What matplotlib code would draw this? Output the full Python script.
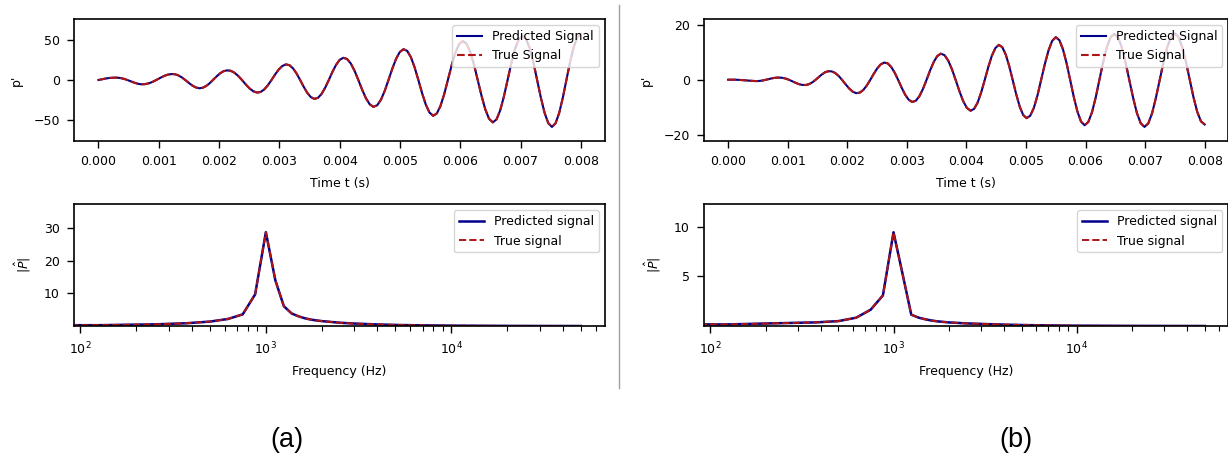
import numpy as np
import matplotlib
matplotlib.use("Agg")
import matplotlib.pyplot as plt

# ---------------- data ----------------
# panel (a): time signal p' (times in ms)
a_time_ms = [0, 0.0625, 0.125, 0.1875, 0.25,
             0.3075, 0.365, 0.4225, 0.48, 0.5375, 0.595, 0.6525, 0.71,
             0.7725, 0.835, 0.8975, 0.96, 1.0225, 1.085, 1.1475, 1.21,
             1.2675, 1.325, 1.3825, 1.44, 1.4975, 1.555, 1.6125, 1.67,
             1.7275, 1.785, 1.8425, 1.90, 1.9575, 2.015, 2.0725, 2.13,
             2.1925, 2.255, 2.3175, 2.38, 2.4425, 2.505, 2.5675, 2.63,
             2.69, 2.75, 2.81, 2.87, 2.93, 2.99, 3.05, 3.11,
             3.16875, 3.2275, 3.28625, 3.345, 3.40375, 3.4625, 3.52125, 3.58,
             3.64, 3.70, 3.76, 3.82, 3.88, 3.94, 4.00, 4.06,
             4.1225, 4.185, 4.2475, 4.31, 4.3725, 4.435, 4.4975, 4.56,
             4.6225, 4.685, 4.7475, 4.81, 4.8725, 4.935, 4.9975, 5.06,
             5.12125, 5.1825, 5.24375, 5.305, 5.36625, 5.4275, 5.48875, 5.55,
             5.61125, 5.6725, 5.73375, 5.795, 5.85625, 5.9175, 5.97875, 6.04,
             6.1025, 6.165, 6.2275, 6.29, 6.3525, 6.415, 6.4775, 6.54,
             6.60125, 6.6625, 6.72375, 6.785, 6.84625, 6.9075, 6.96875, 7.03,
             7.09125, 7.1525, 7.21375, 7.275, 7.33625, 7.3975, 7.45875, 7.52,
             7.58, 7.64, 7.70, 7.76, 7.82, 7.88, 7.94, 8.00]
a_true_signal = [0, 1.00, 1.91, 2.59, 2.90,
                 2.97, 2.49, 1.47, 0, -1.71, -3.38, -4.70, -5.40,
                 -5.23, -4.19, -2.37, 0, 2.57, 4.93, 6.69, 7.50,
                 7.26, 5.82, 3.29, 0, -3.57, -6.84, -9.28, -10.40,
                 -9.80, -7.65, -4.23, 0, 4.39, 8.26, 10.99, 12.10,
                 11.61, 9.21, 5.17, 0, -5.52, -10.52, -14.17, -15.80,
                 -15.04, -11.84, -6.60, 0, 6.96, 13.19, 17.67, 19.60,
                 18.59, 14.59, 8.10, 0, -8.50, -16.06, -21.46, -23.75,
                 -22.43, -17.53, -9.69, 0, 10.09, 18.99, 25.30, 27.90,
                 26.45, 20.76, 11.52, 0, -12.09, -22.83, -30.51, -33.75,
                 -31.77, -24.75, -13.65, 0, 14.12, 26.51, 35.23, 38.75,
                 36.53, 28.50, 15.74, 0, -16.34, -30.71, -40.86, -45.00,
                 -42.04, -32.52, -17.81, 0, 18.19, 33.94, 44.81, 49.00,
                 45.77, 35.41, 19.38, 0, -19.80, -36.93, -48.75, -53.30,
                 -49.51, -38.07, -20.73, 0, 20.94, 38.85, 51.03, 55.50,
                 51.69, 39.86, 21.76, 0, -22.09, -41.10, -54.11, -59.00,
                 -54.40, -41.54, -22.45, 0, 22.36, 41.18, 53.71, 58.00]
a_pred_signal = list(a_true_signal)

# panel (b): time signal p' (times in ms)
b_time_ms = [0, 0.05375, 0.1075, 0.16125, 0.215, 0.26875, 0.3225, 0.37625, 0.43,
             0.4775, 0.525, 0.5725, 0.62, 0.6675, 0.715, 0.7625, 0.81,
             0.865, 0.92, 0.975, 1.03, 1.085, 1.14, 1.195, 1.25,
             1.30375, 1.3575, 1.41125, 1.465, 1.51875, 1.5725, 1.62625, 1.68,
             1.73875, 1.7975, 1.85625, 1.915, 1.97375, 2.0325, 2.09125, 2.15,
             2.20875, 2.2675, 2.32625, 2.385, 2.44375, 2.5025, 2.56125, 2.62,
             2.67875, 2.7375, 2.79625, 2.855, 2.91375, 2.9725, 3.03125, 3.09,
             3.15, 3.21, 3.27, 3.33, 3.39, 3.45, 3.51, 3.57,
             3.6325, 3.695, 3.7575, 3.82, 3.8825, 3.945, 4.0075, 4.07,
             4.129, 4.189, 4.248, 4.3075, 4.367, 4.426, 4.486, 4.545,
             4.603, 4.661, 4.719, 4.7775, 4.836, 4.894, 4.952, 5.01,
             5.071, 5.133, 5.194, 5.255, 5.316, 5.378, 5.439, 5.50,
             5.561, 5.621, 5.682, 5.7425, 5.803, 5.864, 5.924, 5.985,
             6.047, 6.109, 6.171, 6.2325, 6.294, 6.356, 6.418, 6.48,
             6.544, 6.6075, 6.671, 6.735, 6.799, 6.8625, 6.926, 6.99,
             7.054, 7.1175, 7.181, 7.245, 7.309, 7.3725, 7.436, 7.50,
             7.5625, 7.625, 7.6875, 7.75, 7.8125, 7.875, 7.9375, 8.00]
b_true_signal = [0.10, 0.12, 0.12, 0.08, 0, -0.10, -0.21, -0.30, -0.36,
                 -0.39, -0.34, -0.21, 0, 0.25, 0.51, 0.72, 0.84,
                 0.89, 0.76, 0.46, 0, -0.55, -1.10, -1.55, -1.80,
                 -1.82, -1.52, -0.89, 0, 1.02, 2.01, 2.80, 3.20,
                 3.14, 2.55, 1.46, 0, -1.61, -3.11, -4.25, -4.80,
                 -4.61, -3.67, -2.06, 0, 2.21, 4.21, 5.69, 6.35,
                 6.06, 4.78, 2.67, 0, -2.83, -5.37, -7.20, -8.00,
                 -7.58, -5.94, -3.29, 0, 3.45, 6.50, 8.69, 9.60,
                 9.06, 7.07, 3.91, 0, -4.06, -7.64, -10.16, -11.20,
                 -10.53, -8.20, -4.52, 0, 4.67, 8.77, 11.64, 12.80,
                 11.95, 9.24, 5.06, 0, -5.17, -9.63, -12.72, -13.90,
                 -13.04, -10.13, -5.57, 0, 5.73, 10.73, 14.22, 15.60,
                 14.52, 11.19, 6.10, 0, -6.19, -11.51, -15.14, -16.50,
                 -15.28, -11.72, -6.36, 0, 6.39, 11.83, 15.49, 16.80,
                 15.56, 11.93, 6.48, 0, -6.51, -12.04, -15.76, -17.10,
                 -15.79, -12.08, -6.53, 0, 6.53, 12.04, 15.72, 17.00,
                 15.62, 11.88, 6.40, 0, -6.32, -11.59, -15.06, -16.20]
b_pred_signal = list(b_true_signal)

# spectra |P_hat| vs frequency (Hz); the 0 Hz bin is clipped by the log axis
a_freq_hz = [0, 125, 250, 375, 500, 625, 750, 875, 1000, 1125, 1250, 1375, 1500,
             1625, 1750, 1875, 2000, 2500, 3000, 4000, 5000, 7000, 10000,
             15000, 20000, 30000, 50000]
a_true_spec = [0.28, 0.30, 0.55, 0.90, 1.40, 2.20, 3.60, 9.70, 28.7, 14.0, 6.10, 3.90, 3.00,
               2.40, 2.00, 1.75, 1.55, 1.05, 0.80, 0.52, 0.38, 0.25, 0.16,
               0.11, 0.08, 0.06, 0.05]
a_pred_spec = list(a_true_spec)

b_freq_hz = [0, 125, 250, 375, 500, 625, 750, 875, 1000, 1125, 1250, 1375, 1500,
             1625, 1750, 2000, 2500, 3000, 4000, 5000, 7000, 10000, 20000, 50000]
b_true_spec = [0.20, 0.20, 0.33, 0.40, 0.53, 0.87, 1.67, 3.10, 9.43, 5.10, 1.17, 0.87, 0.70,
               0.58, 0.50, 0.40, 0.30, 0.25, 0.18, 0.14, 0.10, 0.07, 0.05, 0.04]
b_pred_spec = list(b_true_spec)

panel_labels = ["(a)", "(b)"]

# ---------------- figure ----------------
plt.rcParams.update({
    "font.size": 9,
    "axes.linewidth": 1.2,
    "xtick.major.size": 5.3, "ytick.major.size": 5.3,
    "xtick.major.width": 1.0, "ytick.major.width": 1.0,
    "xtick.minor.size": 3.4, "xtick.minor.width": 0.8,
    "xtick.major.pad": 5.0, "ytick.major.pad": 5.0,
    "xtick.minor.pad": 5.0,
    "axes.labelpad": 6.0,
})
W, H = 1228, 461
fig = plt.figure(figsize=(W / 100, H / 100), dpi=100)


def frac(x0, y0, x1, y1):
    return [x0 / W, 1 - y1 / H, (x1 - x0) / W, (y1 - y0) / H]


pred_col = "darkblue"
true_col = "#b01515"

panels = [
    (74.3, 605.0, a_time_ms, a_pred_signal, a_true_signal, a_freq_hz, a_pred_spec, a_true_spec),
    (704.3, 1228.5, b_time_ms, b_pred_signal, b_true_signal, b_freq_hz, b_pred_spec, b_true_spec),
]

for (x0, x1, tms, ps, ts, fr, pp, tp) in panels:
    ax = fig.add_axes(frac(x0, 19, x1, 141))
    t = np.array(tms) / 1000.0
    ax.plot(t, ps, color=pred_col, lw=1.5, label="Predicted Signal")
    ax.plot(t, ts, color=true_col, lw=1.5, ls="--", label="True Signal")
    m = 1.3 * np.max(np.abs(ts))
    ax.set_ylim(-m, m)
    ax.set_xlabel("Time t (s)")
    ax.set_ylabel("p'", labelpad=8)
    ax.legend(loc="upper right")

    ax2 = fig.add_axes(frac(x0, 204, x1, 326))
    ax2.set_xscale("log")
    ax2.plot(fr, pp, color=pred_col, lw=1.8, label="Predicted signal")
    ax2.plot(fr, tp, color=true_col, lw=1.4, ls="--", label="True signal")
    ax2.set_ylim(np.min(tp), 1.3 * np.max(tp))
    ax2.set_xlabel("Frequency (Hz)")
    ax2.set_ylabel(r"$|\hat{P}|$", labelpad=8)
    ax2.legend(loc="upper right")

# separator line
fig.add_artist(plt.Line2D([619.3 / W, 619.3 / W], [1 - 5 / H, 1 - 388 / H],
                          color="#a0a0a0", lw=1.0))

fig.text(287 / W, 1 - 440 / H, panel_labels[0], ha="center", va="center",
         fontsize=19.5, family="Liberation Sans")
fig.text(1016 / W, 1 - 440 / H, panel_labels[1], ha="center", va="center",
         fontsize=19.5, family="Liberation Sans")

fig.savefig("out.png", dpi=100)
